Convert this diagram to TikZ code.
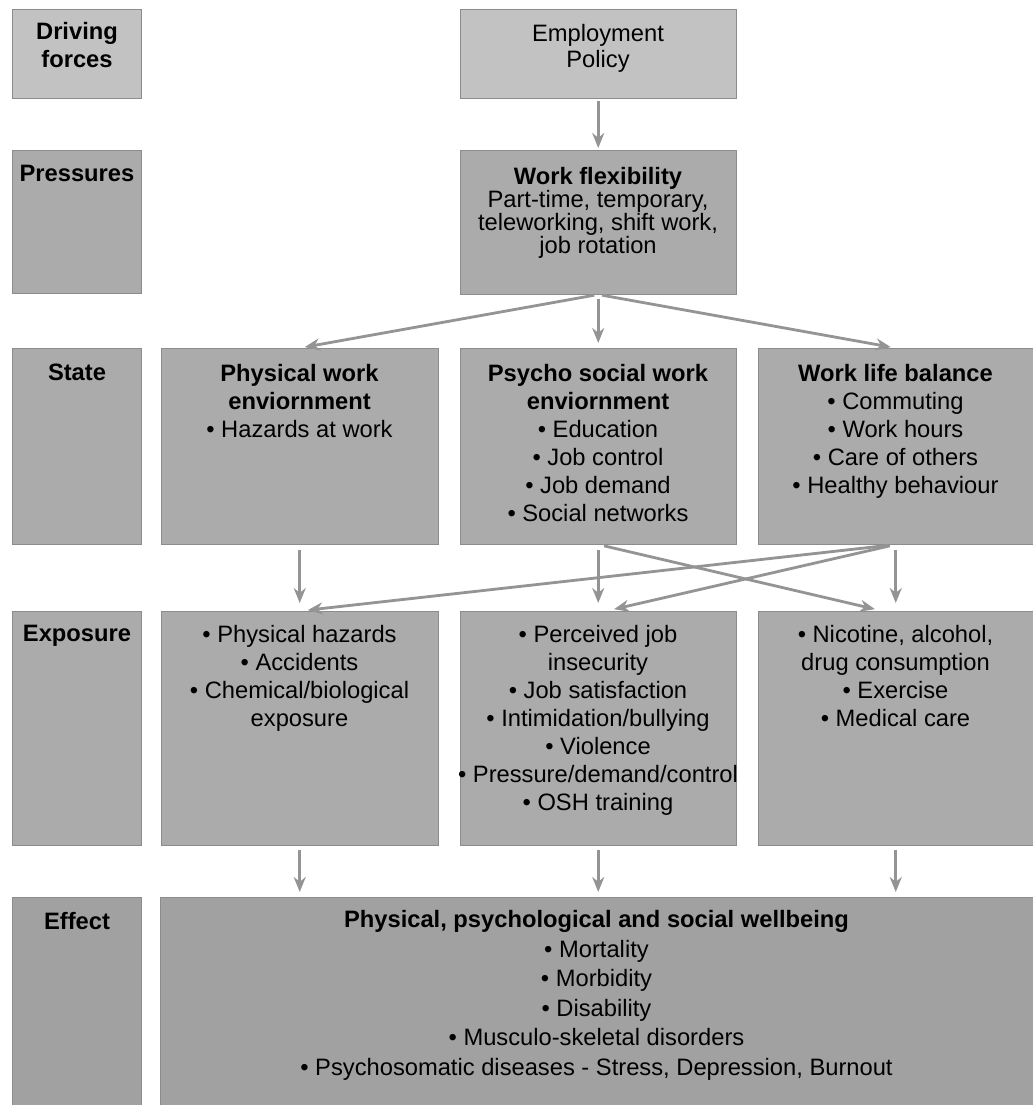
\documentclass[tikz,border=0pt]{standalone}
\usepackage{fontspec}
\setmainfont{Liberation Sans}
\usetikzlibrary{arrows.meta,positioning}

\colorlet{boxgray}{black!33}
\colorlet{lightgray}{black!24}

\tikzset{
  box/.style={rectangle, anchor=north west, fill=boxgray, draw=black!45, line width=0.3pt, inner sep=0pt},
  txt/.style={anchor=north, align=center, inner sep=0pt, font=\fontsize{13.5}{15.9}\selectfont},
  lbl/.style={txt, font=\fontsize{13.5}{15.9}\selectfont\bfseries}
}

\begin{document}
\begin{tikzpicture}[x=0.02cm, y=-0.02cm]
  \useasboundingbox (0,0) rectangle (1033,1105);
  % boxes, left column of labels
  \begin{scope}[every node/.append style={minimum width=2.58cm}]
    \node[box, fill=lightgray, minimum height=1.78cm] (drv) at (12,9) {};
    \node[box, minimum height=2.86cm] (prs) at (12,150) {};
    \node[box, minimum height=3.92cm] (sta) at (12,348) {};
    \node[box, minimum height=4.68cm] (exp) at (12,611) {};
    \node[box, fill=black!37, minimum height=4.16cm] (eff) at (12,897) {};
  \end{scope}
  % boxes, the chain
  \node[box, fill=lightgray, minimum width=5.52cm, minimum height=1.78cm] (emp) at (460,9) {};
  \node[box, minimum width=5.52cm, minimum height=2.88cm] (wf) at (460,150) {};
  \begin{scope}[every node/.append style={minimum height=3.92cm}]
    \node[box, minimum width=5.54cm] (phys) at (161,348) {};
    \node[box, minimum width=5.52cm] (psy) at (460,348) {};
    \node[box, minimum width=5.50cm] (wlb) at (758,348) {};
  \end{scope}
  \begin{scope}[every node/.append style={minimum height=4.68cm}]
    \node[box, minimum width=5.54cm] (physx) at (161,611) {};
    \node[box, minimum width=5.52cm] (psyx) at (460,611) {};
    \node[box, minimum width=5.50cm] (wlbx) at (758,611) {};
  \end{scope}
  \node[box, fill=black!37, minimum width=17.46cm, minimum height=4.16cm] (effm) at (160,897) {};

  % texts
  \node[lbl] (drvt) at (77,22) {Driving\\forces};
  \node[lbl] (prst) at (77,165) {Pressures};
  \node[lbl] (stat) at (77,364) {State};
  \node[lbl] (expt) at (77,625) {Exposure};
  \node[lbl] (efft) at (77,912) {Effect};

  \node[txt, font=\fontsize{13.5}{14.7}\selectfont] (empt) at (598,24) {Employment\\Policy};
  \node[txt, font=\fontsize{13.5}{13}\selectfont] (wft) at (598,167)
    {\textbf{Work flexibility}\\Part-time, temporary,\\teleworking, shift work,\\job rotation};
  \node[txt] (physt) at (299.5,364) {\textbf{Physical work}\\\textbf{enviornment}\\• Hazards at work};
  \node[txt] (psyt) at (598,364) {\textbf{Psycho social work}\\\textbf{enviornment}\\• Education\\• Job control\\• Job demand\\• Social networks};
  \node[txt] (wlbt) at (895.5,364) {\textbf{Work life balance}\\• Commuting\\• Work hours\\• Care of others\\• Healthy behaviour};
  \node[txt] (physxt) at (299.5,625) {• Physical hazards\\• Accidents\\• Chemical/biological\\exposure};
  \node[txt] (psyxt) at (598,625) {• Perceived job\\insecurity\\• Job satisfaction\\• Intimidation/bullying\\• Violence\\• Pressure/demand/control\\• OSH training};
  \node[txt] (wlbxt) at (895.5,625) {• Nicotine, alcohol,\\drug consumption\\• Exercise\\• Medical care};
  \node[txt, font=\fontsize{13.5}{16.8}\selectfont] (effmt) at (596.5,910)
    {\textbf{Physical, psychological and social wellbeing}\\• Mortality\\• Morbidity\\• Disability\\• Musculo-skeletal disorders\\• Psychosomatic diseases - Stress, Depression, Burnout};

  % arrows
  \begin{scope}[every edge/.style={draw=black!42, line width=1.6pt,
      -{Stealth[length=0.3cm, width=0.24cm, fill=black!22]}}]
    \path (emp.south) edge[shorten <=0.04cm, shorten >=0.04cm] (wf.north);
    \begin{scope}[shorten <=0.08cm, shorten >=0.1cm]
      \path (wf.south) edge (phys.north);
      \path (wf.south) edge (psy.north);
      \path (wf.south) edge (wlb.north);
    \end{scope}
    \begin{scope}[shorten <=0.12cm, shorten >=0.16cm]
      \path (phys.south) edge (physx.north);
      \path (psy.south) edge (psyx.north);
      \path (wlb.south) edge (wlbx.north);
      \path (wlb.south) edge (physx.north);
      \path (wlb.south) edge ([xshift=0.16cm]psyx.north);
      \path (psy.south) edge ([xshift=-0.26cm]wlbx.north);
    \end{scope}
    \begin{scope}[shorten <=0.1cm, shorten >=0.1cm]
      \path (physx.south) edge (physx.south |- effm.north);
      \path (psyx.south) edge (psyx.south |- effm.north);
      \path (wlbx.south) edge (wlbx.south |- effm.north);
    \end{scope}
  \end{scope}
\end{tikzpicture}
\end{document}
